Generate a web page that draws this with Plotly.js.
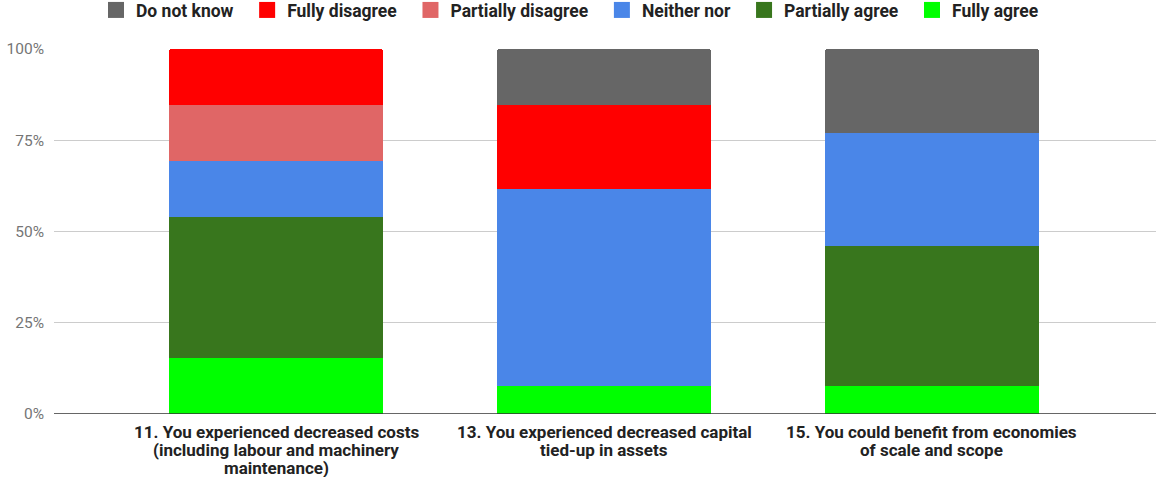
<!DOCTYPE html>
<html>
<head>
<meta charset="utf-8">
<script src="https://cdn.plot.ly/plotly-3.0.1.min.js"></script>
<style>html,body{margin:0;padding:0;background:#fff;}#chart{width:1156px;height:477px;}</style>
</head>
<body>
<div id="chart"></div>
<script>
const categoryLines = [
  ["11. You experienced decreased costs", "(including labour and machinery", "maintenance)"],
  ["13. You experienced decreased capital", "tied-up in assets"],
  ["15. You could benefit from economies", "of scale and scope"]
];
// shares in percent (13 respondents)
const fullyAgree = [15.38, 7.69, 7.69];
const partiallyAgree = [38.46, 0, 38.46];
const neitherNor = [15.38, 53.85, 30.77];
const partiallyDisagree = [15.38, 0, 0];
const fullyDisagree = [15.38, 23.08, 0];
const doNotKnow = [0, 15.38, 23.08];
const seriesNames = ["Fully agree", "Partially agree", "Neither nor", "Partially disagree", "Fully disagree", "Do not know"];
const seriesValues = [fullyAgree, partiallyAgree, neitherNor, partiallyDisagree, fullyDisagree, doNotKnow];
const seriesColors = ["#00ff00", "#38761d", "#4a86e8", "#e06666", "#ff0000", "#666666"];
const yTicks = [0, 25, 50, 75, 100];
const yTickLabels = ["0%", "25%", "50%", "75%", "100%"];

const xIdx = categoryLines.map((c, i) => i);
const traces = seriesNames.map((name, k) => ({
  type: "bar",
  name: name,
  x: xIdx,
  y: seriesValues[k],
  width: 0.652,
  marker: {color: seriesColors[k], line: {width: 0}},
  showlegend: false
}));
// legend entries (in legend order, top of stack first)
for (let k = seriesNames.length - 1; k >= 0; k--) {
  traces.push({
    type: "scatter", mode: "markers", name: seriesNames[k] + "\u00a0\u00a0",
    x: [null], y: [null],
    marker: {symbol: "square", size: 16, color: seriesColors[k], line: {width: 0}},
    showlegend: true
  });
}

const plotH = 477 - 49 - 63;
const annotations = [];
categoryLines.forEach((lines, i) => {
  lines.forEach((ln, j) => {
    annotations.push({
      xref: "x", yref: "paper", x: i, y: -(17.5 + j * 18) / plotH,
      xanchor: "center", yanchor: "middle", showarrow: false,
      borderpad: 0, borderwidth: 0,
      text: ln,
      font: {family: "Roboto, sans-serif", size: 17, color: "#222", weight: "bold"}
    });
  });
});

const layout = {
  width: 1156, height: 477,
  margin: {l: 54, r: 0, t: 49, b: 63, autoexpand: false},
  paper_bgcolor: "#fff", plot_bgcolor: "#fff",
  barmode: "stack",
  barcornerradius: 3,
  font: {family: "Roboto, sans-serif", size: 15, color: "#222"},
  xaxis: {
    range: [-0.677, 2.683],
    tickvals: xIdx, showticklabels: false,
    showgrid: false, zeroline: false, showline: false,
    ticks: "",
    fixedrange: true
  },
  yaxis: {
    range: [0, 100],
    tickvals: yTicks, ticktext: yTickLabels,
    gridcolor: "#cccccc", gridwidth: 1,
    zeroline: false, showline: false,
    ticks: "", ticklabelstandoff: 9,
    tickfont: {family: "Roboto, sans-serif", size: 15.5, color: "#757575"},
    fixedrange: true
  },
  annotations: annotations,
  shapes: [{type: "line", xref: "paper", yref: "y", x0: 0, x1: 1, y0: 0, y1: 0, line: {color: "#333333", width: 1.5}}],
  legend: {
    orientation: "h", traceorder: "normal",
    x: 0.0381, xanchor: "left", y: 1.156, yanchor: "top",
    font: {family: "Roboto, sans-serif", size: 17.5, color: "#222", weight: "bold"}
  },
  showlegend: true
};

Plotly.newPlot("chart", traces, layout, {displayModeBar: false, staticPlot: true});
</script>
</body>
</html>
